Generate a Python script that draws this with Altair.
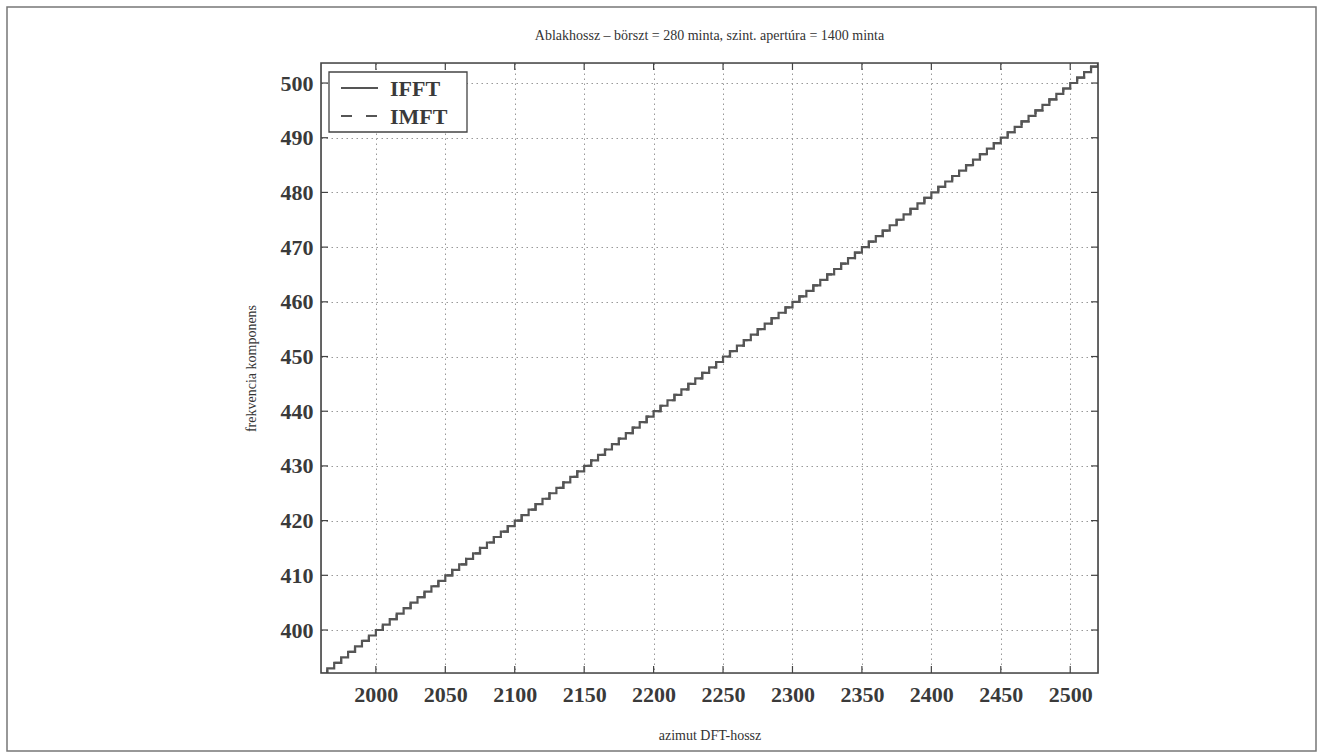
import altair as alt
import pandas as pd

# ---- data ----
dft_len = [
    1960, 1965, 1970, 1975, 1980, 1985, 1990, 1995,
    2000, 2005, 2010, 2015, 2020, 2025, 2030, 2035, 2040, 2045,
    2050, 2055, 2060, 2065, 2070, 2075, 2080, 2085, 2090, 2095,
    2100, 2105, 2110, 2115, 2120, 2125, 2130, 2135, 2140, 2145,
    2150, 2155, 2160, 2165, 2170, 2175, 2180, 2185, 2190, 2195,
    2200, 2205, 2210, 2215, 2220, 2225, 2230, 2235, 2240, 2245,
    2250, 2255, 2260, 2265, 2270, 2275, 2280, 2285, 2290, 2295,
    2300, 2305, 2310, 2315, 2320, 2325, 2330, 2335, 2340, 2345,
    2350, 2355, 2360, 2365, 2370, 2375, 2380, 2385, 2390, 2395,
    2400, 2405, 2410, 2415, 2420, 2425, 2430, 2435, 2440, 2445,
    2450, 2455, 2460, 2465, 2470, 2475, 2480, 2485, 2490, 2495,
    2500, 2505, 2510, 2515, 2520,
]
freq = [
    392, 393, 394, 395, 396, 397, 398, 399,
    400, 401, 402, 403, 404, 405, 406, 407, 408, 409,
    410, 411, 412, 413, 414, 415, 416, 417, 418, 419,
    420, 421, 422, 423, 424, 425, 426, 427, 428, 429,
    430, 431, 432, 433, 434, 435, 436, 437, 438, 439,
    440, 441, 442, 443, 444, 445, 446, 447, 448, 449,
    450, 451, 452, 453, 454, 455, 456, 457, 458, 459,
    460, 461, 462, 463, 464, 465, 466, 467, 468, 469,
    470, 471, 472, 473, 474, 475, 476, 477, 478, 479,
    480, 481, 482, 483, 484, 485, 486, 487, 488, 489,
    490, 491, 492, 493, 494, 495, 496, 497, 498, 499,
    500, 501, 502, 503, 504,
]
series = ["IFFT", "IMFT"]
x_ticks = [2000, 2050, 2100, 2150, 2200, 2250, 2300, 2350, 2400, 2450, 2500]
y_ticks = [400, 410, 420, 430, 440, 450, 460, 470, 480, 490, 500]
x_domain = [1960.5, 2520]
y_domain = [392.14, 503.66]

title_text = ["Ablakhossz – börszt = 280 minta, szint. apertúra = 1400 minta"]
x_title = "azimut DFT-hossz"
y_title = "frekvencia komponens"

rows = []
for s in series:
    for xv, yv in zip(dft_len, freq):
        rows.append({"x": xv, "y": yv, "series": s})
df = pd.DataFrame(rows)

W, H = 777, 610
LEFT, TOP = 321, 63
SERIF = "Liberation Serif"
LINE_C = "#555555"
TEXT_C = "#333333"

xs = alt.Scale(domain=x_domain, nice=False, zero=False)
ys = alt.Scale(domain=y_domain, nice=False, zero=False)

line = alt.Chart(df).mark_line(
    interpolate="step-after", clip=True, color=LINE_C, strokeWidth=2.2
).encode(
    x=alt.X("x:Q", scale=xs, axis=alt.Axis(
        values=x_ticks, title=x_title, format="d",
        labelFont=SERIF, labelFontSize=22, labelFontWeight="bold", labelColor="#3a3a3a",
        labelPadding=11, ticks=False, domain=False,
        grid=True, gridDash=[1.5, 3.5], gridColor="#999999", gridWidth=1,
        titleFont=SERIF, titleFontSize=14, titleFontWeight="normal", titleColor=TEXT_C,
        titlePadding=23,
    )),
    y=alt.Y("y:Q", scale=ys, axis=alt.Axis(
        values=y_ticks, title=y_title, format="d",
        labelFont=SERIF, labelFontSize=22, labelFontWeight="bold", labelColor="#3a3a3a",
        labelPadding=8, ticks=False, domain=False,
        grid=True, gridDash=[1.5, 3.5], gridColor="#999999", gridWidth=1,
        titleFont=SERIF, titleFontSize=14, titleFontWeight="normal", titleColor=TEXT_C,
        titlePadding=22,
    )),
    strokeDash=alt.StrokeDash("series:N", scale=alt.Scale(domain=series, range=[[1, 0], [11, 14]]), legend=None),
)

xt = pd.DataFrame({"t": x_ticks})
yt = pd.DataFrame({"t": y_ticks})
tick_style = dict(color="#444444", strokeWidth=1.2)
xt_bot = alt.Chart(xt).mark_rule(**tick_style).encode(
    x=alt.X("t:Q", scale=xs), y=alt.value(H), y2=alt.value(H - 7))
xt_top = alt.Chart(xt).mark_rule(**tick_style).encode(
    x=alt.X("t:Q", scale=xs), y=alt.value(0), y2=alt.value(7))
yt_left = alt.Chart(yt).mark_rule(**tick_style).encode(
    y=alt.Y("t:Q", scale=ys), x=alt.value(0), x2=alt.value(7))
yt_right = alt.Chart(yt).mark_rule(**tick_style).encode(
    y=alt.Y("t:Q", scale=ys), x=alt.value(W), x2=alt.value(W - 7))

leg_df = pd.DataFrame({"series": series, "row": [0, 1]})

# plot frame
plot_frame = alt.Chart(leg_df.head(1)).mark_rect(
    fillOpacity=0, stroke="#444444", strokeWidth=1.6
).encode(x=alt.value(0), x2=alt.value(W), y=alt.value(0), y2=alt.value(H))

# legend (manual, top-left inside the plot)
leg_box = alt.Chart(leg_df.head(1)).mark_rect(
    fill="white", stroke="#444444", strokeWidth=1.3
).encode(x=alt.value(8), x2=alt.value(146), y=alt.value(9), y2=alt.value(69))
leg_solid = alt.Chart(leg_df.head(1)).mark_rule(color=LINE_C, strokeWidth=2.2).encode(
    x=alt.value(20), x2=alt.value(57), y=alt.value(25))
leg_dash = alt.Chart(leg_df.tail(1)).mark_rule(color=LINE_C, strokeWidth=2.2, strokeDash=[11, 14]).encode(
    x=alt.value(20), x2=alt.value(57), y=alt.value(53))
leg_t1 = alt.Chart(leg_df.head(1)).mark_text(
    align="left", baseline="middle", font=SERIF, fontSize=22, fontWeight="bold", color="#3a3a3a"
).encode(x=alt.value(69), y=alt.value(26), text="series:N")
leg_t2 = alt.Chart(leg_df.tail(1)).mark_text(
    align="left", baseline="middle", font=SERIF, fontSize=22, fontWeight="bold", color="#3a3a3a"
).encode(x=alt.value(69), y=alt.value(54), text="series:N")

# chart title as text above the plot
title_mark = alt.Chart(pd.DataFrame({"t": title_text})).mark_text(
    align="center", baseline="middle", font=SERIF, fontSize=14, color=TEXT_C
).encode(x=alt.value(W / 2), y=alt.value(36 - TOP), text="t:N")

# outer page frame
frame = alt.Chart(leg_df.head(1)).mark_rect(
    fillOpacity=0, stroke="#777777", strokeWidth=1.5
).encode(x=alt.value(7 - LEFT), x2=alt.value(1316 - LEFT), y=alt.value(7 - TOP), y2=alt.value(751 - TOP))

chart = alt.layer(
    frame, line, xt_bot, xt_top, yt_left, yt_right, plot_frame,
    leg_box, leg_solid, leg_dash, leg_t1, leg_t2, title_mark,
).properties(
    width=W, height=H,
    autosize=alt.AutoSizeParams(type="none"),
    padding={"left": LEFT, "top": TOP, "right": 1322 - LEFT - W, "bottom": 754 - TOP - H},
).configure_view(
    stroke=None
).configure(background="white")

chart.save("out.html", embed_options={"renderer": "svg", "actions": False})
